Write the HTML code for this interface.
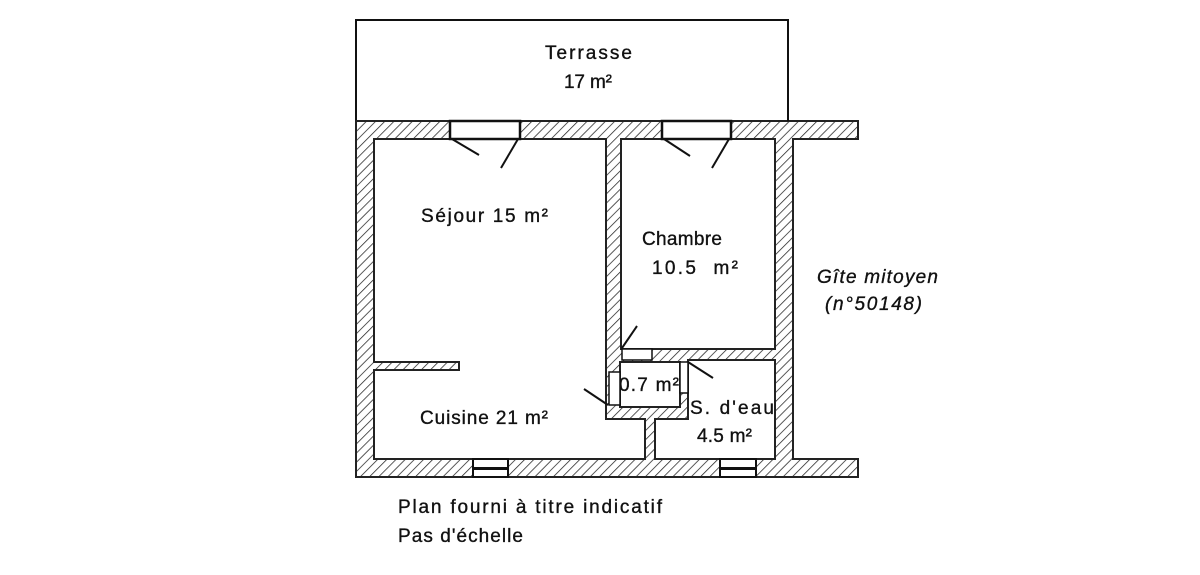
<!DOCTYPE html>
<html><head><meta charset="utf-8"><style>
html,body{margin:0;padding:0;background:#fff;}
svg{display:block}
text{font-family:"Liberation Sans",sans-serif;font-size:19px;fill:#111;stroke:#111;stroke-width:0.35;}
</style></head><body>
<svg width="1200" height="575" viewBox="0 0 1200 575" xmlns="http://www.w3.org/2000/svg">
<defs>
<pattern id="h" patternUnits="userSpaceOnUse" width="6.5" height="6.5" patternTransform="rotate(45)">
<rect width="6.5" height="6.5" fill="#fff"/>
<line x1="0" y1="0" x2="0" y2="6.5" stroke="#222" stroke-width="1.5"/>
</pattern>
</defs>
<rect width="1200" height="575" fill="#fff"/>
<path d="M356,121 V20 H788 V121" fill="none" stroke="#111" stroke-width="2"/>
<path fill-rule="evenodd" fill="url(#h)" stroke="#222" stroke-width="2" d="
M356,121 H858 V139 H793 V459 H858 V477 H356 Z
M374,139 H606 V419 H645 V459 H374 V370 H459 V362 H374 Z
M621,139 H775 V349 H621 Z
M620,362 H680 V407 H620 Z
M688,360 H775 V459 H655 V419 H688 Z"/>
<rect x="450" y="121" width="70" height="18" fill="#fff" stroke="#111" stroke-width="2.5"/>
<rect x="662" y="121" width="69" height="18" fill="#fff" stroke="#111" stroke-width="2.5"/>
<rect x="622" y="349" width="30" height="11" fill="#fff" stroke="#111" stroke-width="1.5"/>
<rect x="609" y="372" width="11" height="33" fill="#fff" stroke="#111" stroke-width="1.5"/>
<rect x="680" y="362" width="8" height="31" fill="#fff" stroke="#111" stroke-width="1.5"/>
<rect x="473" y="459" width="35" height="18" fill="#fff" stroke="#111" stroke-width="2"/>
<rect x="473" y="467" width="35" height="3" fill="#111"/>
<rect x="720" y="459" width="36" height="18" fill="#fff" stroke="#111" stroke-width="2"/>
<rect x="720" y="467" width="36" height="3" fill="#111"/>
<g stroke="#111" stroke-width="2" fill="none">
<line x1="452" y1="139" x2="479" y2="155"/>
<line x1="518" y1="139" x2="501" y2="168"/>
<line x1="664" y1="139" x2="690" y2="156"/>
<line x1="729" y1="139" x2="712" y2="168"/>
<line x1="622" y1="348" x2="637" y2="326"/>
<line x1="608" y1="405" x2="584" y2="389"/>
<line x1="688" y1="362" x2="713" y2="378"/>
<line x1="788" y1="110" x2="788" y2="121"/>
</g>
<text x="545" y="59" textLength="87" lengthAdjust="spacing">Terrasse</text>
<text x="564" y="88" textLength="48" lengthAdjust="spacing">17 m²</text>
<text x="421" y="222" textLength="127" lengthAdjust="spacing">Séjour 15 m²</text>
<text x="642" y="245" textLength="80" lengthAdjust="spacing">Chambre</text>
<text x="652" y="274" textLength="86" lengthAdjust="spacing">10.5&#160; m²</text>
<text x="817" y="283" font-style="italic" textLength="121" lengthAdjust="spacing">Gîte mitoyen</text>
<text x="825" y="310" font-style="italic" textLength="97" lengthAdjust="spacing">(n°50148)</text>
<text x="420" y="424" textLength="128" lengthAdjust="spacing">Cuisine 21 m²</text>
<text x="619" y="391" font-size="18" textLength="60" lengthAdjust="spacing">0.7 m²</text>
<text x="690" y="414" font-size="18" textLength="84" lengthAdjust="spacing">S. d'eau</text>
<text x="697" y="442" font-size="18" textLength="55" lengthAdjust="spacing">4.5 m²</text>
<text x="398" y="513" font-size="16" textLength="264" lengthAdjust="spacing">Plan fourni à titre indicatif</text>
<text x="398" y="542" font-size="16" textLength="125" lengthAdjust="spacing">Pas d'échelle</text>
</svg>
</body></html>
